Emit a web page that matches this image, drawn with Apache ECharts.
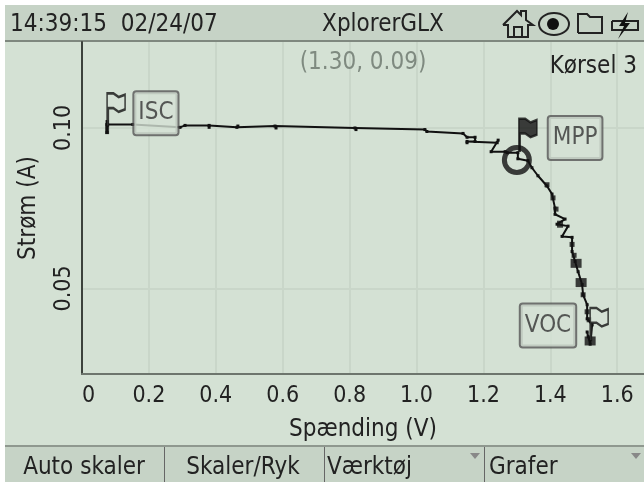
<!DOCTYPE html>
<html>
<head>
<meta charset="utf-8">
<style>
  html, body { margin: 0; padding: 0; background: #fff; }
  #chart { width: 644px; height: 482px; }
</style>
<script src="https://cdn.jsdelivr.net/npm/echarts@6/dist/echarts.min.js"></script>
</head>
<body>
<div id="chart"></div>
<script>
const xTicks = [0, 0.2, 0.4, 0.6, 0.8, 1.0, 1.2, 1.4, 1.6]
const yTicks = [0.05, 0.10]

// Run 3, voltage (V) and current (A) in recording order
const voltage = [0.075, 0.075, 0.075, 0.152, 0.293, 0.308, 0.380, 0.380, 0.463, 0.466, 0.577, 0.580, 0.816, 0.819, 1.025, 1.031, 1.139, 1.151, 1.175, 1.175, 1.151, 1.151, 1.241, 1.244, 1.223, 1.265, 1.271, 1.303, 1.303, 1.333, 1.345, 1.363, 1.390, 1.405, 1.414, 1.414, 1.444, 1.420, 1.453, 1.435, 1.465, 1.465, 1.474, 1.483, 1.495, 1.498, 1.510, 1.510, 1.525, 1.519, 1.510, 1.513]
const current = [0.0986, 0.1020, 0.1011, 0.1011, 0.1002, 0.1008, 0.1008, 0.1002, 0.1002, 0.1006, 0.1006, 0.1000, 0.1000, 0.0995, 0.0995, 0.0989, 0.0983, 0.0971, 0.0971, 0.0958, 0.0958, 0.0954, 0.0954, 0.0962, 0.0926, 0.0926, 0.0923, 0.0923, 0.0904, 0.0898, 0.0876, 0.0851, 0.0819, 0.0794, 0.0750, 0.0731, 0.0716, 0.0700, 0.0694, 0.0662, 0.0659, 0.0615, 0.0584, 0.0552, 0.0512, 0.0480, 0.0449, 0.0405, 0.0386, 0.0326, 0.0364, 0.0349]

// Heavier clusters of overlapping samples
const clusterVolt = [0.075, 1.429, 1.477, 1.492, 1.519]
const clusterAmp = [0.0998, 0.0700, 0.0578, 0.0518, 0.0336]
const speckVolt = [1.390, 1.408, 1.417, 1.465, 1.471, 1.498, 1.510, 1.516]
const speckAmp = [0.0823, 0.0782, 0.0747, 0.0637, 0.0603, 0.0480, 0.0427, 0.0402]

const markerNames = ['ISC', 'MPP', 'VOC']
const markerVolt = [0.075, 1.306, 1.519]
const markerAmp = [0.1008, 0.0929, 0.0339]
const labelVolt = [0.221, 1.474, 1.393]
const labelAmp = [0.1046, 0.0969, 0.0384]

const cursorVolt = 1.30
const cursorAmp = 0.09

const ink = '#222'
const faint = '#7f8a80'
const paper = '#d4e1d4'
const band = '#c6d3c6'
const font = '"DejaVu Sans Condensed", "DejaVu Sans", sans-serif'

const flagPath = 'path://M0 26V0H5L9 3L14 1V13L9 15L5 12H1V26Z'

const chart = echarts.init(document.getElementById('chart'))

function bandText(text, x, y, align, color) {
  return {
    type: 'text',
    x,
    y,
    z: 10,
    style: { text, fill: color || ink, font: '24px ' + font, align, verticalAlign: 'middle' },
  }
}

function hr(x, y, width, height, fill) {
  return { type: 'rect', shape: { x, y, width, height }, style: { fill } }
}

function outline(points) {
  return { type: 'polyline', shape: { points }, style: { stroke: ink, fill: 'none', lineWidth: 2 } }
}

chart.setOption({
  animation: false,
  backgroundColor: paper,
  grid: { left: 82, right: 0, top: 42, bottom: 108 },
  xAxis: {
    type: 'value',
    min: 0,
    max: 1.68,
    name: 'Spænding (V)',
    nameLocation: 'middle',
    nameGap: 44,
    nameTextStyle: { color: ink, fontFamily: font, fontSize: 24 },
    axisLine: { onZero: false, lineStyle: { color: '#6d756d', width: 2 } },
    axisTick: { show: false, customValues: xTicks },
    splitLine: { show: true, lineStyle: { color: '#c9d6c9', width: 2 } },
    axisLabel: {
      customValues: xTicks,
      alignMinLabel: 'left',
      color: ink,
      fontFamily: font,
      fontSize: 23,
      margin: 11,
      formatter: (v) => (v === 0 ? '0' : v.toFixed(1)),
    },
  },
  yAxis: {
    type: 'value',
    min: 0.0233,
    max: 0.1268,
    name: 'Strøm (A)',
    nameLocation: 'middle',
    nameGap: 41,
    nameTextStyle: { color: ink, fontFamily: font, fontSize: 24 },
    axisLine: { onZero: false, lineStyle: { color: '#3c423c', width: 2 } },
    axisTick: { show: false, customValues: yTicks },
    splitLine: { show: true, lineStyle: { color: '#c9d6c9', width: 2 } },
    axisLabel: {
      customValues: yTicks,
      rotate: 90,
      color: ink,
      fontFamily: font,
      fontSize: 23,
      margin: 6,
      formatter: (v) => v.toFixed(2),
    },
  },
  series: [
    {
      type: 'line',
      data: voltage.map((v, i) => [v, current[i]]),
      showSymbol: true,
      symbol: 'rect',
      symbolSize: 3,
      lineStyle: { color: '#111', width: 2 },
      itemStyle: { color: '#111' },
      z: 3,
    },
    {
      type: 'scatter',
      data: clusterVolt.map((v, i) => [v, clusterAmp[i]]),
      symbol: 'rect',
      symbolSize: (val) => (val[0] < 1 ? [4, 11] : val[0] < 1.45 ? [6, 7] : [11, 9]),
      itemStyle: { color: '#111' },
      z: 3,
    },
    {
      type: 'scatter',
      data: speckVolt.map((v, i) => [v, speckAmp[i]]),
      symbol: 'rect',
      symbolSize: 5,
      itemStyle: { color: '#111' },
      z: 3,
    },
    {
      // cursor ring at the selected point
      type: 'scatter',
      data: [[cursorVolt, cursorAmp]],
      symbol: 'circle',
      symbolSize: 25,
      itemStyle: { color: 'transparent', borderColor: '#111', borderWidth: 5 },
      z: 4,
    },
    {
      type: 'scatter',
      data: markerVolt.map((v, i) => [v, markerAmp[i]]),
      symbol: flagPath,
      symbolSize: [18, 32],
      symbolOffset: [9, -16],
      itemStyle: {
        color: (p) => (p.dataIndex === 1 ? '#111' : paper),
        borderColor: '#111',
        borderWidth: 2,
      },
      z: 4,
    },
    {
      type: 'scatter',
      data: labelVolt.map((v, i) => [v, labelAmp[i], markerNames[i]]),
      symbolSize: 0,
      label: {
        show: true,
        position: 'inside',
        formatter: (p) => p.value[2],
        color: '#333',
        fontFamily: font,
        fontSize: 24,
        backgroundColor: paper,
        borderColor: '#555',
        borderWidth: 2,
        borderRadius: 2,
        padding: [10, 4, 8, 4],
      },
      z: 5,
    },
  ],
  graphic: [
    hr(0, 0, 644, 5, '#fff'),
    hr(0, 0, 5, 482, '#fff'),
    hr(5, 5, 639, 35, band),
    hr(5, 40, 639, 2, '#7f887f'),
    hr(5, 447, 639, 35, band),
    hr(5, 445, 639, 2, '#8f988f'),
    hr(164, 447, 1, 35, '#666'),
    hr(324, 447, 1, 35, '#666'),
    hr(484, 447, 1, 35, '#666'),
    bandText('14:39:15  02/24/07', 10, 25, 'left'),
    bandText('XplorerGLX', 383, 25, 'center'),
    bandText('(1.30, 0.09)', 363, 63, 'center', faint),
    bandText('Kørsel 3', 637, 67, 'right'),
    bandText('Auto skaler', 84, 468, 'center'),
    bandText('Skaler/Ryk', 243, 468, 'center'),
    bandText('Værktøj', 327, 468, 'left'),
    bandText('Grafer', 489, 468, 'left'),
    { type: 'polygon', shape: { points: [[470, 453], [480, 453], [475, 459]] }, style: { fill: '#888' } },
    { type: 'polygon', shape: { points: [[631, 453], [641, 453], [636, 459]] }, style: { fill: '#888' } },
    // status bar icons
    outline([[503, 25], [517, 11], [521, 15], [521, 11], [526, 11], [526, 20], [533, 25], [528, 25], [528, 37], [508, 37], [508, 25], [503, 25]]),
    outline([[514, 37], [514, 27], [522, 27], [522, 37]]),
    { type: 'ellipse', shape: { cx: 554, cy: 24, rx: 15, ry: 11 }, style: { stroke: ink, fill: 'none', lineWidth: 2 } },
    { type: 'circle', shape: { cx: 553, cy: 24, r: 6 }, style: { fill: '#111' } },
    outline([[578, 33], [578, 14], [587, 14], [590, 17], [602, 17], [602, 33], [578, 33]]),
    outline([[612, 21], [638, 21], [638, 30], [612, 30], [612, 21]]),
    { type: 'polygon', shape: { points: [[628, 12], [619, 26], [624, 26], [618, 39], [630, 23], [625, 23]] }, style: { fill: '#111' } },
  ],
})
</script>
</body>
</html>
